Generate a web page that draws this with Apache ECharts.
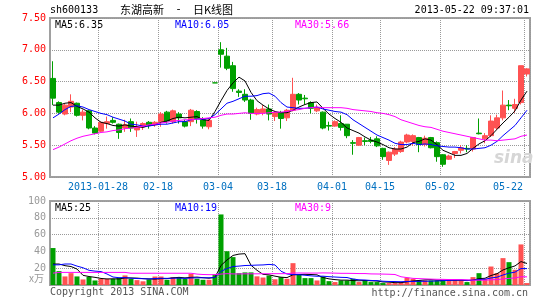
<!DOCTYPE html>
<html><head><meta charset="utf-8">
<script src="https://cdn.jsdelivr.net/npm/echarts@6/dist/echarts.min.js"></script>
<style>html,body{margin:0;padding:0;background:#fff}#c{width:545px;height:300px}</style>
</head><body><div id="c"></div>
<script>
// ---- data ----
const dates = ['2013-01-16','2013-01-17','2013-01-18','2013-01-21','2013-01-22','2013-01-23','2013-01-24','2013-01-25',
 '2013-01-28','2013-01-29','2013-01-30','2013-01-31','2013-02-01','2013-02-04','2013-02-05','2013-02-06','2013-02-07','2013-02-08',
 '2013-02-18','2013-02-19','2013-02-20','2013-02-21','2013-02-22','2013-02-25','2013-02-26','2013-02-27','2013-02-28','2013-03-01',
 '2013-03-04','2013-03-05','2013-03-06','2013-03-07','2013-03-08','2013-03-11','2013-03-12','2013-03-13','2013-03-14',
 '2013-03-18','2013-03-19','2013-03-20','2013-03-21','2013-03-22','2013-03-25','2013-03-26','2013-03-27','2013-03-28','2013-03-29',
 '2013-04-01','2013-04-02','2013-04-03','2013-04-08','2013-04-09','2013-04-10','2013-04-11','2013-04-12',
 '2013-04-15','2013-04-16','2013-04-17','2013-04-18','2013-04-19','2013-04-22','2013-04-23','2013-04-24','2013-04-25','2013-04-26',
 '2013-05-02','2013-05-03','2013-05-06','2013-05-07','2013-05-08','2013-05-09','2013-05-10','2013-05-13','2013-05-14','2013-05-15',
 '2013-05-16','2013-05-17','2013-05-20','2013-05-21','2013-05-22'];
const opens = [6.55,6.17,5.99,6.10,6.16,5.97,6.04,5.77,5.72,5.84,
 5.89,5.83,5.77,5.87,5.74,5.79,5.86,5.82,5.87,6.02,
 5.87,5.99,5.87,5.87,6.03,5.90,5.79,6.48,7.00,6.90,
 6.75,6.35,6.30,6.21,5.99,6.01,6.07,5.95,6.01,5.93,
 6.05,6.30,6.24,6.17,6.04,6.02,5.81,5.80,5.84,5.83,
 5.54,5.50,5.57,5.58,5.60,5.45,5.26,5.36,5.40,5.55,
 5.56,5.62,5.51,5.62,5.54,5.35,5.28,5.37,5.42,5.45,
 5.44,5.69,5.60,5.65,5.77,5.93,6.13,6.08,6.17,6.62];
const closes = [6.24,6.02,6.13,6.19,5.97,6.02,5.77,5.69,5.86,5.87,
 5.86,5.70,5.82,5.77,5.79,5.84,5.82,5.86,5.99,5.88,
 6.04,5.93,5.80,6.05,5.92,5.80,5.89,6.48,6.93,6.71,
 6.39,6.33,6.21,6.00,6.06,6.07,5.99,6.01,5.92,6.05,
 6.30,6.21,6.23,6.08,6.09,5.77,5.80,5.87,5.78,5.65,
 5.53,5.62,5.56,5.56,5.49,5.32,5.39,5.44,5.55,5.66,
 5.65,5.51,5.61,5.46,5.32,5.20,5.33,5.40,5.46,5.44,
 5.62,5.68,5.65,5.88,5.93,6.13,6.12,6.14,6.75,6.70];
const lows = [6.13,6.00,5.97,6.02,5.95,5.89,5.75,5.67,5.71,5.76,
 5.84,5.60,5.71,5.71,5.63,5.74,5.76,5.79,5.79,5.84,
 5.84,5.84,5.78,5.80,5.84,5.76,5.75,6.48,6.72,6.68,
 6.34,6.26,6.18,5.90,5.97,5.97,5.89,5.88,5.76,5.88,
 6.03,6.14,6.14,6.00,6.02,5.75,5.73,5.79,5.73,5.61,
 5.35,5.49,5.50,5.53,5.47,5.27,5.19,5.33,5.38,5.53,
 5.49,5.39,5.48,5.45,5.24,5.16,5.27,5.30,5.37,5.39,
 5.40,5.67,5.53,5.63,5.74,5.89,6.05,6.01,6.14,6.58];
const highs = [6.82,6.19,6.15,6.30,6.17,6.06,6.05,5.80,5.87,5.95,
 5.94,5.84,5.90,5.92,5.87,5.86,5.88,5.88,6.02,6.04,
 6.06,6.02,5.90,6.07,6.05,5.94,5.92,6.48,7.12,7.03,
 6.81,6.38,6.38,6.23,6.09,6.13,6.14,6.04,6.04,6.07,
 6.56,6.32,6.29,6.19,6.14,6.03,5.87,5.89,5.97,5.83,
 5.58,5.63,5.62,5.63,5.64,5.46,5.40,5.47,5.57,5.68,
 5.67,5.63,5.65,5.63,5.56,5.36,5.35,5.41,5.50,5.50,
 5.63,5.92,5.69,5.97,5.98,6.36,6.21,6.23,6.75,6.71];
const ma5 = [6.13,6.13,6.16,6.17,6.11,6.07,6.02,5.93,5.86,5.84,
 5.81,5.80,5.82,5.80,5.79,5.78,5.81,5.82,5.86,5.88,
 5.92,5.94,5.93,5.94,5.95,5.90,5.89,6.03,6.20,6.36,
 6.48,6.57,6.51,6.33,6.20,6.13,6.07,6.03,6.01,6.01,
 6.05,6.10,6.14,6.17,6.18,6.08,5.99,5.92,5.86,5.77,
 5.73,5.69,5.63,5.58,5.55,5.51,5.46,5.44,5.44,5.47,
 5.54,5.56,5.60,5.58,5.51,5.42,5.38,5.34,5.34,5.37,
 5.45,5.52,5.57,5.65,5.75,5.85,5.94,6.04,6.21,6.35];
const ma10 = [5.93,5.99,6.06,6.11,6.12,6.10,6.06,6.03,6.00,5.98,
 5.94,5.91,5.88,5.83,5.82,5.80,5.80,5.82,5.83,5.83,
 5.85,5.87,5.87,5.90,5.91,5.91,5.92,5.98,6.07,6.16,
 6.19,6.23,6.27,6.27,6.28,6.31,6.32,6.27,6.17,6.10,
 6.09,6.08,6.08,6.09,6.10,6.07,6.05,6.03,6.02,5.98,
 5.90,5.84,5.78,5.72,5.66,5.62,5.58,5.53,5.51,5.51,
 5.53,5.51,5.52,5.51,5.49,5.48,5.47,5.47,5.46,5.44,
 5.44,5.45,5.46,5.50,5.56,5.65,5.73,5.81,5.93,6.05];
const ma30 = [5.43,5.47,5.52,5.57,5.61,5.64,5.66,5.68,5.70,5.71,
 5.73,5.74,5.76,5.77,5.78,5.80,5.82,5.83,5.85,5.86,
 5.88,5.89,5.90,5.90,5.91,5.92,5.93,5.94,5.97,5.99,
 5.99,6.00,6.01,6.00,6.00,6.00,6.01,6.02,6.02,6.03,
 6.05,6.06,6.08,6.09,6.10,6.09,6.09,6.09,6.09,6.08,
 6.06,6.05,6.04,6.03,6.01,6.00,5.98,5.95,5.90,5.87,
 5.84,5.81,5.79,5.78,5.75,5.72,5.70,5.68,5.66,5.64,
 5.62,5.60,5.58,5.58,5.57,5.58,5.59,5.60,5.64,5.66];
const volumes = [44,16.5,10.2,14.1,10.2,6.6,9.6,5.4,7.3,7.3,
 7.2,8.5,11.4,7.3,5.8,4.4,6.6,10.1,10.1,6.2,
 9.4,9.4,7.4,13.3,7.4,6.2,6.2,12.5,84,40.2,
 33.2,14.1,15,15,10.3,8.9,11.3,6.8,9.4,7.4,
 26,12.5,8.2,8.2,5.4,10.1,4.6,3.5,5.4,5.4,
 7.4,3.5,5.4,3.5,3.5,2.3,2.3,2.3,3.5,8.6,
 7.4,5.4,5.4,5.4,5.4,6.2,5.4,5.4,5.4,3.5,
 9.4,14.1,7.4,22,14.1,32,27.2,18.1,48.3,2.3];
const vma5 = [25,25,23,22,19.0,11.5,10.1,9.1,7.8,7.2,
 7.4,7.2,8.4,8.4,8.2,7.6,7.2,7.0,7.6,7.6,
 8.5,9.1,8.5,9.1,9.4,8.7,8.1,9.1,23.3,29.8,
 35.2,36.8,37.3,23.5,17.5,12.7,12.1,10.5,9.3,8.8,
 12.2,12.4,12.7,12.5,12.1,8.9,7.3,6.4,5.8,5.8,
 5.3,5.0,5.4,5.0,4.7,3.6,3.4,2.8,2.8,3.8,
 4.8,5.4,6.1,6.4,5.8,5.6,5.6,5.6,5.6,5.2,
 5.8,7.6,8.0,11.3,13.4,17.9,20.5,22.7,27.9,25.6];
const vma10 = [24,24,25,25,22.5,20.5,17.5,16.5,16.0,13.1,
 9.5,8.7,8.8,8.1,7.7,7.5,7.2,7.7,8.0,7.9,
 8.1,8.2,7.8,8.4,8.5,8.6,8.6,8.8,16.2,19.6,
 22.0,22.5,23.2,23.4,23.7,23.9,24.5,23.9,16.4,13.1,
 12.4,12.3,11.6,10.9,10.4,10.5,9.9,9.5,9.1,8.9,
 7.1,6.2,5.9,5.4,5.2,4.5,4.2,4.1,3.9,4.2,
 4.2,4.4,4.4,4.6,4.8,5.2,5.5,5.8,6.0,5.5,
 5.7,6.6,6.8,8.4,9.3,11.9,14.1,15.3,19.6,19.5];
const vma30 = [14.1,15,15,15,15,15,15,15,15,15,
 15,15,15,14,14,14,14,14,14,14,
 14,14,14,14,13,12.5,12.3,12.3,13.0,13.5,
 13.2,13.1,13.3,13.3,13.3,13.4,13.4,13.5,13.5,13.5,
 14.2,14.3,14.2,14.2,14.2,14.4,14.3,14.1,13.9,13.9,
 13.8,13.6,13.6,13.2,13.1,13.0,12.8,12.5,9.8,8.8,
 7.9,7.6,7.3,7.0,6.8,6.7,6.5,6.5,6.3,6.2,
 5.7,5.7,5.7,6.2,6.4,7.2,7.9,8.4,9.8,9.7];
const labelDates = ['2013-01-28','2013-02-18','2013-03-04','2013-03-18','2013-04-01','2013-04-15','2013-05-02','2013-05-22'];
const labelTexts = ['2013-01-28','02-18','03-04','03-18','04-01','04-15','05-02','05-22'];
const priceTicks = [5.00,5.50,6.00,6.50,7.00,7.50];
const volTicks = [0,20,40,60,80,100];
const volTickTexts = ['x万','20','40','60','80','100'];

// ---- chart ----
const UP = '#ff5252', DOWN = '#00a000';
const MONO = '"DejaVu Sans Mono", "Liberation Mono", monospace';
const CJK = '"Noto Sans CJK SC", sans-serif';
const GRIDC = '#999';
const labelIdx = labelDates.map(d => dates.indexOf(d));
const lastIdx = dates.length - 1;

const kData = dates.map((d, i) => {
  const it = { value: [opens[i], closes[i], lows[i], highs[i]] };
  if (opens[i] === closes[i]) it.itemStyle = { color: DOWN, color0: DOWN, borderColor: DOWN, borderColor0: DOWN };
  return it;
});
const volData = volumes.map((v, i) => ({ value: v, itemStyle: { color: closes[i] > opens[i] ? UP : DOWN } }));

function xAxisCfg(grid, showLabel) {
  return {
    type: 'category', gridIndex: grid, data: dates, boundaryGap: true,
    axisLine: { show: false }, axisTick: { show: false },
    axisLabel: {
      show: showLabel, interval: (i) => labelIdx.includes(i), margin: 5,
      color: '#0070c0', fontFamily: MONO, fontSize: 10,
      formatter: (v, i) => {
        const t = labelTexts[labelIdx.indexOf(i)];
        return i === lastIdx ? '{e|' + t + '}' : '{a|' + t + '}';
      },
      rich: {
        a: { color: '#0070c0', fontFamily: MONO, fontSize: 10, padding: [0, 6, 0, 0] },
        e: { color: '#0070c0', fontFamily: MONO, fontSize: 10, padding: [0, 38, 0, 0] }
      }
    },
    splitLine: { show: true, interval: (i) => labelIdx.includes(i), lineStyle: { color: GRIDC, type: [1, 1], width: 1 } }
  };
}

const titleBase = { padding: 0, textStyle: { fontFamily: MONO, fontSize: 10, fontWeight: 'normal', color: '#000' } };
function t(text, pos, color, extra) {
  return Object.assign({}, titleBase, pos, { text: text, textStyle: Object.assign({}, titleBase.textStyle, { color: color }, extra || {}) });
}

const chart = echarts.init(document.getElementById('c'), null, { renderer: 'canvas' });
chart.setOption({
  animation: false,
  backgroundColor: '#fff',
  title: [
    t('sh600133', { left: 50, top: 5 }, '#000'),
    Object.assign({}, titleBase, { left: 120, top: 4, text: '{a|东湖高新}{b| - }{a|日K线图}',
      textStyle: { fontFamily: CJK, fontSize: 11, color: '#000', fontWeight: 'normal',
        rich: { a: { fontFamily: CJK, fontSize: 11, color: '#000' }, b: { fontFamily: MONO, fontSize: 11, color: '#000', width: 29, align: 'center' } } } }),
    t('2013-05-22 09:37:01', { right: 16, top: 5 }, '#000'),
    t('MA5:6.35', { left: 55, top: 20 }, '#000'),
    t('MA10:6.05', { left: 175, top: 20 }, '#0000ff'),
    t('MA30:5.66', { left: 295, top: 20 }, '#ff00ff'),
    t('MA5:25', { left: 55, top: 203 }, '#000'),
    t('MA10:19', { left: 175, top: 203 }, '#0000ff'),
    t('MA30:9', { left: 295, top: 203 }, '#ff00ff'),
    t('Copyright 2013 SINA.COM', { left: 50, top: 287 }, '#555'),
    t('http://finance.sina.com.cn', { right: 17, top: 288 }, '#555'),
    t('sina', { left: 494, top: 150 }, '#d6d6d6', { fontFamily: '"DejaVu Sans", sans-serif', fontSize: 17, fontStyle: 'italic', fontWeight: 'bold' })
  ],
  grid: [
    { left: 50, top: 18, width: 480, height: 159, show: true, borderColor: '#a0a0a0', borderWidth: 2, backgroundColor: 'transparent', containLabel: false, outerBoundsMode: 'none' },
    { left: 50, top: 201, width: 480, height: 84, show: true, borderColor: '#a0a0a0', borderWidth: 2, backgroundColor: 'transparent', containLabel: false, outerBoundsMode: 'none' }
  ],
  xAxis: [xAxisCfg(0, true), xAxisCfg(1, false)],
  yAxis: [
    { type: 'value', gridIndex: 0, min: priceTicks[0], max: priceTicks[priceTicks.length - 1], interval: priceTicks[1] - priceTicks[0],
      axisLine: { show: false }, axisTick: { show: false },
      axisLabel: { color: '#ff0000', fontFamily: MONO, fontSize: 10, margin: 4, formatter: (v) => v.toFixed(2) },
      splitLine: { lineStyle: { color: GRIDC, type: [1, 1], width: 1 } } },
    { type: 'value', gridIndex: 1, min: volTicks[0], max: volTicks[volTicks.length - 1], interval: volTicks[1] - volTicks[0],
      axisLine: { show: false }, axisTick: { show: false },
      axisLabel: { color: '#999', fontFamily: MONO, fontSize: 10, margin: 4,
        formatter: (v) => { const k = volTicks.indexOf(v); return v === 0 ? '{u|' + volTickTexts[k] + '}' : volTickTexts[k]; },
        rich: { u: { color: '#999', fontFamily: CJK, fontSize: 10, padding: [0, 2, 14, 0] } } },
      splitLine: { lineStyle: { color: GRIDC, type: [1, 1], width: 1 } } }
  ],
  series: [
    { type: 'candlestick', xAxisIndex: 0, yAxisIndex: 0, data: kData, barWidth: 5,
      itemStyle: { color: UP, color0: DOWN, borderColor: UP, borderColor0: DOWN, borderWidth: 1 } },
    { type: 'line', xAxisIndex: 0, yAxisIndex: 0, data: ma5, symbol: 'none', lineStyle: { color: '#000', width: 1 }, z: 3 },
    { type: 'line', xAxisIndex: 0, yAxisIndex: 0, data: ma10, symbol: 'none', lineStyle: { color: '#0000ff', width: 1 }, z: 3 },
    { type: 'line', xAxisIndex: 0, yAxisIndex: 0, data: ma30, symbol: 'none', lineStyle: { color: '#ff00ff', width: 1 }, z: 3 },
    { type: 'bar', xAxisIndex: 1, yAxisIndex: 1, data: volData, barWidth: 5 },
    { type: 'line', xAxisIndex: 1, yAxisIndex: 1, data: vma5, symbol: 'none', lineStyle: { color: '#000', width: 1 }, z: 3 },
    { type: 'line', xAxisIndex: 1, yAxisIndex: 1, data: vma10, symbol: 'none', lineStyle: { color: '#0000ff', width: 1 }, z: 3 },
    { type: 'line', xAxisIndex: 1, yAxisIndex: 1, data: vma30, symbol: 'none', lineStyle: { color: '#ff00ff', width: 1 }, z: 3 }
  ]
});
</script></body></html>
